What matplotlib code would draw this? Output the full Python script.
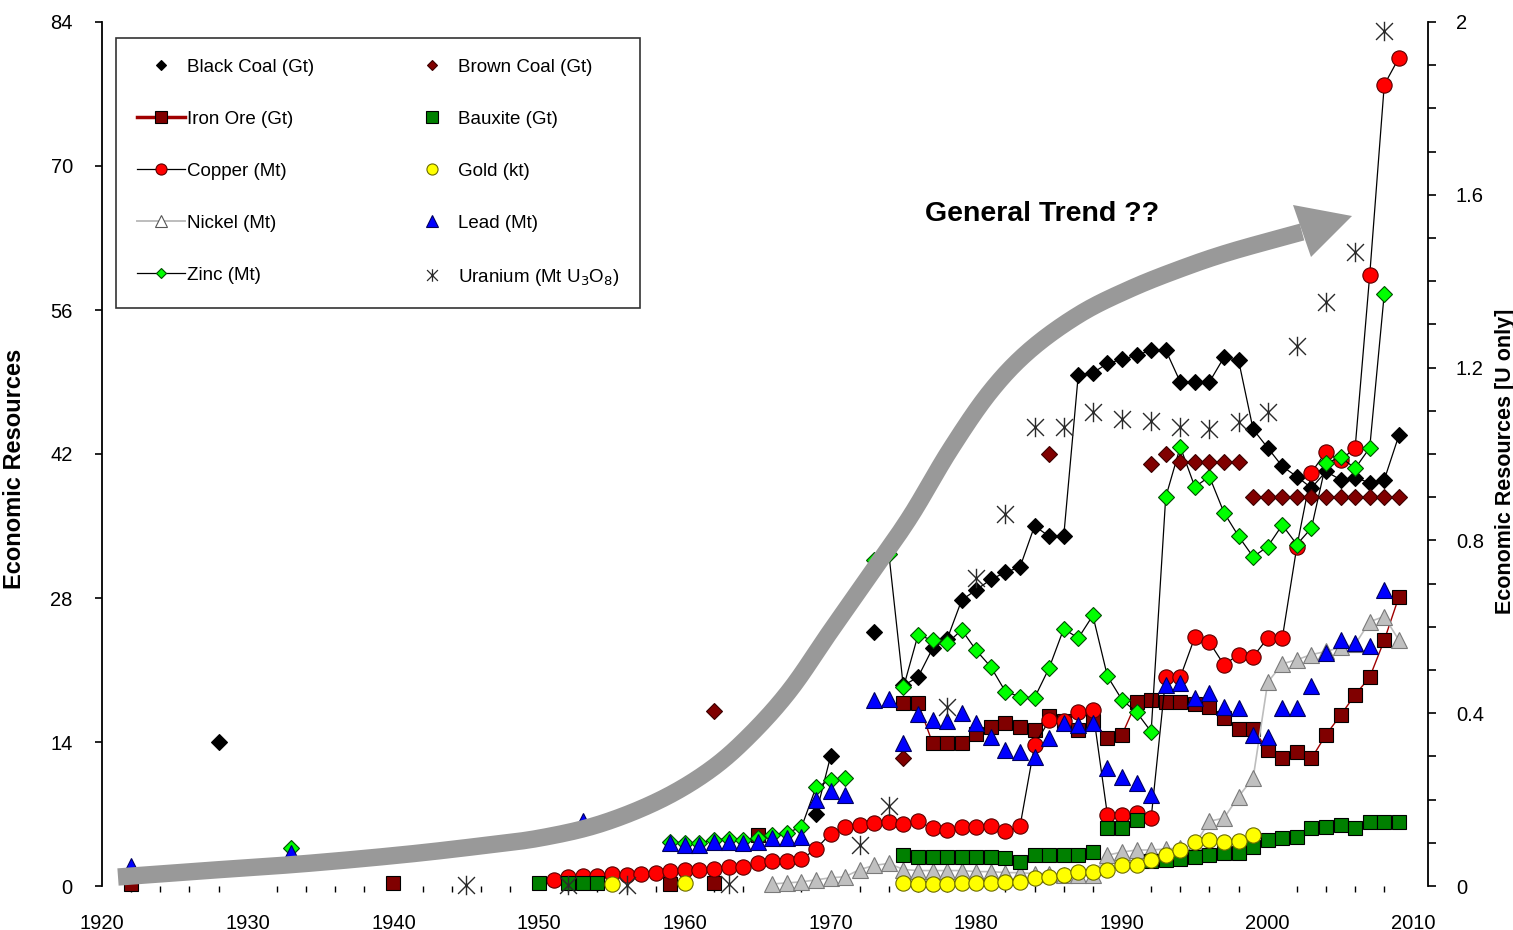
import numpy as np
import matplotlib
matplotlib.use("Agg")
import matplotlib.pyplot as plt
from matplotlib.lines import Line2D
from matplotlib.path import Path
from matplotlib.patches import Polygon
from matplotlib.ticker import MultipleLocator

plt.rcParams['font.family'] = ['Liberation Sans', 'DejaVu Sans']

nan = np.nan

# ---------------- data (year, economic resources) ----------------
black_coal_years = [1928, 1929, 1969, 1970, 1971, 1973, 1974] + list(range(1975, 2010))
black_coal = [14.0, nan, 7.0, 12.6, nan, 24.7, nan,
              19.5, 20.3, 23.1, 24.0, 27.8, 28.8, 29.8, 30.5, 31.0, 35.0,
              34.0, 34.0, 49.7, 49.9, 50.8, 51.2, 51.6, 52.1, 52.1, 49.0,
              49.0, 49.0, 51.4, 51.1, 44.4, 42.6, 40.8, 39.8, 38.7, 40.3,
              39.5, 39.7, 39.2, 39.5, 43.8]

iron_ore_years = [1922, 1923, 1940, 1941, 1959, 1960, 1962, 1963, 1965, 1966] + list(range(1975, 2010))
iron_ore = [0.2, nan, 0.3, nan, 0.2, nan, 0.3, nan, 5.0, nan,
            17.8, 17.8, 13.9, 13.9, 13.9, 14.8, 15.5, 15.8, 15.5, 15.2,
            16.5, 16.0, 15.2, 16.0, 14.4, 14.7, 17.9, 18.1, 17.9, 17.9,
            17.7, 17.4, 16.3, 15.3, 15.3, 13.2, 12.4, 13.0, 12.4, 14.7,
            16.6, 18.6, 20.3, 23.9, 28.1]

copper_years = list(range(1951, 2010))
copper = [0.6, 0.9, 1.0, 1.0, 1.2, 1.1, 1.2, 1.3, 1.5, 1.6,
          1.6, 1.7, 1.8, 1.8, 2.2, 2.4, 2.4, 2.6, 3.6, 5.1,
          5.7, 5.9, 6.1, 6.2, 6.0, 6.3, 5.6, 5.4, 5.7, 5.7,
          5.8, 5.3, 5.8, 13.7, 16.1, 16.0, 16.9, 17.1, 6.9, 6.9,
          7.1, 6.6, 20.3, 20.3, 24.2, 23.7, 21.5, 22.5, 22.3, 24.1,
          24.1, 33.0, 40.2, 42.2, 41.4, 42.6, 59.4, 77.9, 80.5]

nickel_years = list(range(1966, 2010))
nickel = [0.2, 0.3, 0.4, 0.6, 0.8, 0.9, 1.6, 2.0, 2.2, 1.6,
          1.5, 1.5, 1.5, 1.5, 1.4, 1.4, 1.3, 1.3, 1.2, 1.2,
          1.1, 1.1, 1.1, 3.0, 3.3, 3.5, 3.5, 3.6, 3.7, 4.0,
          6.3, 6.6, 8.7, 10.5, 19.8, 21.6, 22.0, 22.5, 22.8, 23.2,
          23.5, 25.7, 26.2, 23.9]

zinc_years = [1933, 1934] + list(range(1959, 1972)) + [1972] + list(range(1973, 2009))
zinc = [3.7, nan,
        4.3, 4.2, 4.2, 4.5, 4.6, 4.5, 4.7, 5.0, 5.2, 5.7, 9.6, 10.3, 10.5,
        nan,
        31.7, 32.3, 19.3, 24.4, 23.9, 23.6, 24.9, 22.9, 21.3, 18.9,
        18.4, 18.3, 21.2, 25.0, 24.1, 26.3, 20.4, 18.1, 16.9, 15.0,
        37.8, 42.7, 38.8, 39.8, 36.3, 34.0, 32.0, 33.0, 35.1, 33.2,
        34.8, 41.1, 41.7, 40.6, 42.6, 57.6]

brown_coal_years = [1962, 1975, 1985] + list(range(1992, 2010))
brown_coal = [17.0, 12.4, 42.0,
              41.0, 42.0, 41.2, 41.2, 41.2, 41.2, 41.2,
              37.8, 37.8, 37.8, 37.8, 37.8, 37.8, 37.8, 37.8, 37.8, 37.8, 37.8]

bauxite_years = [1950, 1952, 1953, 1954] + list(range(1975, 2010))
bauxite = [0.3, 0.3, 0.3, 0.3,
           3.0, 2.8, 2.8, 2.8, 2.8, 2.8, 2.8, 2.7, 2.3, 3.0,
           3.0, 3.0, 3.0, 3.3, 5.6, 5.6, 6.4, 2.4, 2.5, 2.6,
           2.8, 3.0, 3.2, 3.2, 3.8, 4.5, 4.7, 4.8, 5.6, 5.7,
           5.9, 5.6, 6.2, 6.2, 6.2]

gold_years = [1955, 1960] + list(range(1975, 2000))
gold = [0.2, 0.3,
        0.3, 0.2, 0.2, 0.2, 0.3, 0.3, 0.3, 0.4, 0.4, 0.8,
        0.9, 1.1, 1.4, 1.4, 1.6, 2.0, 2.0, 2.5, 3.0, 3.5,
        4.3, 4.5, 4.3, 4.4, 5.0]

lead_years = [1922, 1933, 1953] + list(range(1959, 1972)) + list(range(1973, 2009))
lead = [1.9, 3.2, 6.3,
        4.2, 4.0, 4.0, 4.3, 4.3, 4.2, 4.3, 4.7, 4.7, 4.8, 8.4, 9.2, 8.8,
        18.1, 18.2, 13.9, 16.7, 16.1, 16.0, 16.8, 15.8, 14.5, 13.2,
        13.0, 12.5, 14.4, 15.8, 15.7, 15.8, 11.5, 10.6, 10.0, 8.8,
        19.5, 19.7, 18.3, 18.8, 17.4, 17.3, 14.7, 14.5, 17.3, 17.3,
        19.4, 22.7, 23.9, 23.6, 23.3, 28.8]

uranium_years = [1945, 1952, 1956, 1963, 1972, 1974, 1978, 1980, 1982, 1984, 1986,
                 1988, 1990, 1992, 1994, 1996, 1998, 2000, 2002, 2004, 2006, 2008]
uranium = [0.003, 0.003, 0.003, 0.005, 0.094, 0.186, 0.415, 0.713, 0.861, 1.062, 1.063,
           1.097, 1.082, 1.076, 1.063, 1.058, 1.074, 1.097, 1.249, 1.352, 1.467, 1.980]

left_ticks = [0, 14, 28, 42, 56, 70, 84]
right_ticks = [0, 0.4, 0.8, 1.2, 1.6, 2]
right_tick_labels = ['0', '0.4', '0.8', '1.2', '1.6', '2']
year_ticks = [1920, 1930, 1940, 1950, 1960, 1970, 1980, 1990, 2000, 2010]

# ---------------- figure ----------------
W, H = 1513, 930
fig = plt.figure(figsize=(W / 100, H / 100), dpi=100)
ax = fig.add_axes([102 / W, 1 - 886 / H, (1428 - 102) / W, (886 - 22) / H])
ax2 = ax.twinx()

star = Path([(-1, -1), (1, 1), (-1, 1), (1, -1), (0, -1.15), (0, 1.15)],
            [Path.MOVETO, Path.LINETO, Path.MOVETO, Path.LINETO, Path.MOVETO, Path.LINETO])

styles = {
    'Black Coal (Gt)': dict(marker='D', ms=8, mfc='black', mec='black', mew=0.8,
                            color='black', lw=0.9),
    'Iron Ore (Gt)': dict(marker='s', ms=10.5, mfc='#800000', mec='black', mew=0.8,
                          color='#a00000', lw=1.0),
    'Copper (Mt)': dict(marker='o', ms=11, mfc='#ff0000', mec='#5a0000', mew=0.8,
                        color='black', lw=0.9),
    'Nickel (Mt)': dict(marker='^', ms=11, mfc='#c0c0c0', mec='#7a7a7a', mew=0.8,
                        color='#bdbdbd', lw=1.2),
    'Zinc (Mt)': dict(marker='D', ms=8, mfc='#00ff00', mec='#004d00', mew=0.8,
                      color='black', lw=0.9),
    'Brown Coal (Gt)': dict(marker='D', ms=8, mfc='#800000', mec='#3a0000', mew=0.8,
                            ls='none'),
    'Bauxite (Gt)': dict(marker='s', ms=10.5, mfc='#008000', mec='black', mew=0.8,
                         ls='none'),
    'Gold (kt)': dict(marker='o', ms=11, mfc='#ffff00', mec='#6b6b00', mew=0.8,
                      ls='none'),
    'Lead (Mt)': dict(marker='^', ms=11, mfc='#0000ff', mec='#000060', mew=0.8,
                      ls='none'),
}

series = [
    ('Black Coal (Gt)', black_coal_years, black_coal),
    ('Iron Ore (Gt)', iron_ore_years, iron_ore),
    ('Copper (Mt)', copper_years, copper),
    ('Nickel (Mt)', nickel_years, nickel),
    ('Zinc (Mt)', zinc_years, zinc),
    ('Brown Coal (Gt)', brown_coal_years, brown_coal),
    ('Bauxite (Gt)', bauxite_years, bauxite),
    ('Gold (kt)', gold_years, gold),
    ('Lead (Mt)', lead_years, lead),
]
for i, (name, yrs, vals) in enumerate(series):
    ax.plot(yrs, vals, clip_on=False, zorder=3 + i * 0.1, **styles[name])

ax2.plot(uranium_years, uranium, ls='none', marker=star, ms=14, mec='#2a2a2a',
         mfc='none', mew=1.0, clip_on=False, zorder=3)

# ---------------- axes ----------------
ax.set_xlim(1920, 2011)
ax.set_ylim(0, 84)
ax2.set_ylim(0, 2)

for a in (ax, ax2):
    a.spines['top'].set_visible(False)
    a.spines['bottom'].set_visible(False)
ax.spines['right'].set_visible(False)
ax2.spines['left'].set_visible(False)
for a, side in ((ax, 'left'), (ax2, 'right')):
    a.spines[side].set_linewidth(1.3)

ax.set_xticks(year_ticks)
ax.xaxis.set_minor_locator(MultipleLocator(2))
ax.tick_params(axis='x', which='major', length=0, pad=20, labelsize=14.5)
ax.tick_params(axis='x', which='minor', length=4, width=1, direction='out')

ax.set_yticks(left_ticks)
ax.tick_params(axis='y', which='major', length=5, width=1.2, direction='out',
               pad=16, labelsize=14.5)

ax2.set_yticks(right_ticks)
ax2.set_yticklabels(right_tick_labels)
ax2.yaxis.set_minor_locator(MultipleLocator(0.1))
ax2.tick_params(axis='y', which='major', length=6, width=1.2, direction='out',
                pad=14, labelsize=14.5)
ax2.tick_params(axis='y', which='minor', length=6, width=1.2, direction='out')

ax.set_ylabel('Economic Resources', fontsize=17, fontweight='bold')
ax.yaxis.set_label_coords(-0.0573, 0.483)
ax2.set_ylabel('Economic Resources [U only]', fontsize=15.5, fontweight='bold',
               rotation=90)
ax2.yaxis.set_label_coords(1.0505, 0.492)

# ---------------- trend arrow ----------------
trend_px = np.array([
    (118, 877), (200, 871), (300, 864), (400, 855), (480, 846), (540, 838),
    (600, 824), (660, 800), (710, 770), (750, 735), (790, 690), (830, 632),
    (870, 575), (910, 517), (950, 450), (990, 392), (1030, 350), (1080, 314),
    (1130, 289), (1180, 269), (1230, 252), (1302, 232)], dtype=float)


def catmull_rom(pts, n=20):
    p = np.vstack([pts[0], pts, pts[-1]])
    out = []
    for k in range(1, len(p) - 2):
        p0, p1, p2, p3 = p[k - 1], p[k], p[k + 1], p[k + 2]
        t = np.linspace(0, 1, n, endpoint=False)[:, None]
        out.append(0.5 * ((2 * p1) + (-p0 + p2) * t + (2 * p0 - 5 * p1 + 4 * p2 - p3) * t ** 2
                          + (-p0 + 3 * p1 - 3 * p2 + p3) * t ** 3))
    out.append(pts[-1:])
    return np.vstack(out)


def px_to_axes(xy):
    xy = np.atleast_2d(xy)
    return np.column_stack([(xy[:, 0] - 102) / 1326, (886 - xy[:, 1]) / 864])


curve = px_to_axes(catmull_rom(trend_px))
ax.plot(curve[:, 0], curve[:, 1], transform=ax.transAxes, color='#999999', lw=12.5,
        solid_capstyle='butt', solid_joinstyle='round', zorder=6, clip_on=False)
head = px_to_axes(np.array([(1293, 205), (1352, 216), (1311, 257)], dtype=float))
ax.add_patch(Polygon(head, closed=True, transform=ax.transAxes, facecolor='#999999',
                     edgecolor='none', zorder=6, clip_on=False))

fig.text(1042 / W, 1 - 214 / H, 'General Trend ??', fontsize=20.5, fontweight='bold',
         ha='center', va='center')

# ---------------- legend ----------------
def handle(name, ms, line=True, lw=None):
    st = dict(styles[name])
    st['ms'] = ms
    if not line:
        st['ls'] = 'none'
    if lw is not None:
        st['lw'] = lw
    return Line2D([], [], **st)


handles = [
    handle('Black Coal (Gt)', 5, line=False),
    handle('Iron Ore (Gt)', 8, lw=2.5),
    handle('Copper (Mt)', 8),
    Line2D([], [], marker='^', ms=8, mfc='white', mec='#555555', mew=0.8,
           color='#bdbdbd', lw=1.4),
    handle('Zinc (Mt)', 5),
    handle('Brown Coal (Gt)', 5),
    handle('Bauxite (Gt)', 8),
    handle('Gold (kt)', 8),
    handle('Lead (Mt)', 8),
    Line2D([], [], ls='none', marker=star, ms=9, mec='#2a2a2a', mfc='none', mew=0.9),
]
labels = ['Black Coal (Gt)', 'Iron Ore (Gt)', 'Copper (Mt)', 'Nickel (Mt)', 'Zinc (Mt)',
          'Brown Coal (Gt)', 'Bauxite (Gt)', 'Gold (kt)', 'Lead (Mt)',
          r'Uranium (Mt U$_3$O$_8$)']
leg = ax2.legend(handles, labels, ncol=2, loc='upper left',
                 bbox_to_anchor=((116 - 102) / 1326, (886 - 38) / 864),
                 borderaxespad=0, fontsize=13.5, frameon=True, fancybox=False,
                 borderpad=1.1, labelspacing=1.86, handlelength=2.6,
                 handletextpad=0.1, columnspacing=4.95)
leg.get_frame().set_edgecolor('black')
leg.get_frame().set_linewidth(1.2)
leg.set_zorder(20)

fig.savefig('out.png', dpi=100)
